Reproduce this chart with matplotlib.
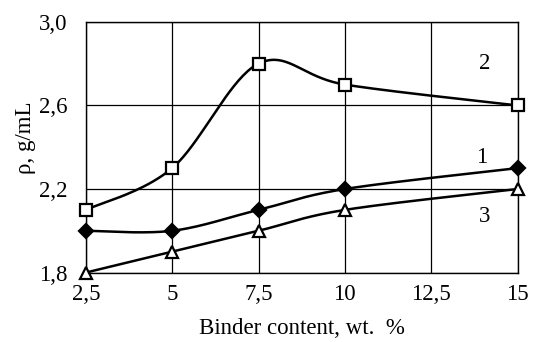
import numpy as np
import matplotlib
matplotlib.use("Agg")
import matplotlib.pyplot as plt

# Data
binder = [2.5, 5, 7.5, 10, 15]
rho_1 = [2.0, 2.0, 2.1, 2.2, 2.3]
rho_2 = [2.1, 2.3, 2.8, 2.7, 2.6]
rho_3 = [1.8, 1.9, 2.0, 2.1, 2.2]
x_ticks = [2.5, 5, 7.5, 10, 12.5, 15]
x_tick_labels = ["2,5", "5", "7,5", "10", "12,5", "15"]
y_ticks = [1.8, 2.2, 2.6, 3.0]
y_tick_labels = ["1,8", "2,2", "2,6", "3,0"]

plt.rcParams["font.family"] = ["Liberation Serif", "DejaVu Serif"]
plt.rcParams["font.size"] = 16.5


def smooth_line(ax, xs, ys, n=40):
    """Excel-style smoothed line: Catmull-Rom Bezier in display space."""
    pts = ax.transData.transform(np.column_stack([xs, ys]))
    pts = np.vstack([pts[0], pts, pts[-1]])
    out = []
    for i in range(1, len(pts) - 2):
        p0, p1, p2, p3 = pts[i - 1], pts[i], pts[i + 1], pts[i + 2]
        c1 = p1 + (p2 - p0) / 6
        c2 = p2 - (p3 - p1) / 6
        t = np.linspace(0, 1, n)[:, None]
        seg = ((1 - t) ** 3) * p1 + 3 * ((1 - t) ** 2) * t * c1 \
            + 3 * (1 - t) * t ** 2 * c2 + t ** 3 * p2
        out.append(seg if i == 1 else seg[1:])
    out = np.vstack(out)
    return ax.transData.inverted().transform(out).T


fig = plt.figure(figsize=(5.33, 3.42), dpi=100)
ax = fig.add_axes([0.161, 0.203, 0.81, 0.733])
ax.set_xlim(2.5, 15)
ax.set_ylim(1.8, 3.0)

ax.set_xticks(x_ticks)
ax.set_xticklabels(x_tick_labels)
ax.set_yticks(y_ticks)
ax.set_yticklabels(y_tick_labels)
ax.tick_params(length=0, pad=8)
ax.tick_params(axis="y", pad=13)
ax.grid(True, color="black", linewidth=0.9)
for s in ax.spines.values():
    s.set_linewidth(1.0)

series = [
    (rho_1, dict(marker="D", markersize=7, markerfacecolor="black")),
    (rho_2, dict(marker="s", markersize=9, markerfacecolor="white")),
    (rho_3, dict(marker="^", markersize=8, markerfacecolor="white")),
]
for ys, mk in series:
    sx, sy = smooth_line(ax, binder, ys)
    ax.plot(sx, sy, color="black", linewidth=1.8, zorder=3, clip_on=False)
    ax.plot(binder, ys, linestyle="none", markeredgecolor="black",
            markeredgewidth=1.6, zorder=4, clip_on=False, **mk)

ax.text(14.05, 2.80, "2", ha="center", va="center")
ax.text(13.95, 2.35, "1", ha="center", va="center")
ax.text(14.05, 2.07, "3", ha="center", va="center")

ax.set_xlabel("Binder content, wt.  %")
ax.xaxis.set_label_coords(0.5, -0.18)
ax.set_ylabel("ρ, g/mL")
ax.yaxis.set_label_coords(-0.116, 0.538)

fig.savefig("out.png", dpi=100)
